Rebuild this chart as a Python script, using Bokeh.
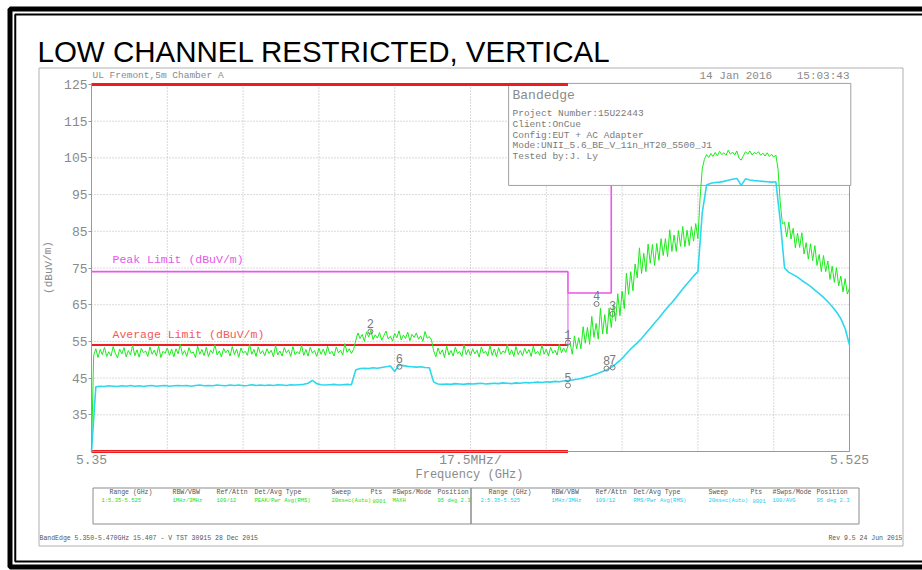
import numpy as np
from bokeh.plotting import figure
from bokeh.models import Label, BoxAnnotation, FixedTicker, Range1d, ColumnDataSource
from bokeh.core.properties import value
from bokeh.embed import file_html
from bokeh.resources import INLINE

# ---------------- data ----------------
freq_start, freq_stop = 5.35, 5.525
level_bottom, level_top = 25, 125

# Trace 1 (peak, green), dBuV/m
green_dbuv = [
    25.0,
    51.2, 53.0, 50.6, 52.8, 51.4, 53.4, 50.9, 52.2, 51.0, 53.6, 51.8, 50.5, 52.9, 51.6, 53.3, 50.8, 52.5, 51.3, 54.0, 51.1,
    52.7, 50.7, 53.1, 51.9, 52.4, 50.9, 53.5, 51.5, 52.6, 51.0, 53.8, 50.6, 52.3, 51.7, 53.2, 51.2, 52.9, 50.8, 53.0, 51.6,
    54.2, 51.4, 52.5, 50.9, 53.3, 51.8, 52.1, 50.6, 53.7, 51.5, 52.8, 51.1, 53.4, 50.9, 52.6, 51.7, 54.1, 51.3, 52.4, 50.8,
    53.1, 51.9, 52.7, 51.0, 53.6, 51.4, 52.9, 50.7, 53.2, 51.8, 52.3, 51.2, 54.3, 51.5, 52.8, 50.9, 53.5, 51.6, 52.5, 51.1,
    53.0, 51.7, 52.6, 50.8, 53.9, 51.3, 52.4, 51.0, 53.3, 51.9, 52.7, 50.9, 53.6, 51.4, 52.2, 51.6, 54.0, 51.2, 52.8, 51.0,
    53.4, 51.8, 52.5, 50.9, 53.1, 51.5, 52.9, 51.2, 53.7, 51.6, 52.3, 51.0, 53.5, 51.9, 52.6, 51.3, 54.4, 52.0, 53.0, 51.7, 52.8,
    55.2, 57.3, 55.8, 56.9, 55.0, 57.6, 56.2, 58.1, 55.5, 56.8, 55.9, 57.4, 55.3, 56.6, 57.8, 55.7, 56.4, 55.1,
    57.2, 56.0, 57.9, 55.4, 56.7, 55.8, 57.5, 55.2, 56.9, 56.1, 57.3, 55.6, 56.5, 55.0, 57.7, 55.9, 56.3, 55.4,
    52.4, 50.8, 53.2, 51.5, 52.7, 50.6, 53.8, 51.3, 52.5, 51.0, 53.4, 51.7, 52.2, 50.9, 54.1, 51.4, 52.8, 51.1, 53.0, 51.6,
    52.6, 50.7, 53.5, 51.8, 52.3, 51.0, 53.9, 51.2, 52.9, 50.8, 53.3, 51.5, 52.4, 51.9, 54.2, 51.3, 52.7, 50.9, 53.6, 51.4,
    52.5, 51.1, 53.1, 51.7, 52.8, 50.9, 53.7, 51.6, 52.3, 51.2, 54.0, 51.5, 52.9, 51.0, 53.4, 51.8, 52.6, 51.3, 54.3, 51.9, 53.2, 52.0, 53.8,
    54.5, 51.5, 56.5, 53.0, 56.0, 53.0, 59.0, 54.5, 58.8, 54.2, 61.8, 56.1, 59.9, 55.6, 64.0, 57.0, 62.3, 57.0, 64.0, 58.8,
    65.0, 60.5, 68.0, 62.0, 68.7, 63.9, 73.6, 67.8, 74.0, 68.8, 76.1, 72.3, 80.5, 73.5, 79.0, 74.0, 81.5, 76.3, 81.4, 75.7,
    81.7, 77.1, 83.0, 78.4, 83.0, 78.1, 85.4, 79.5, 84.0, 79.5, 85.2, 80.9, 86.3, 80.8, 85.3, 81.1, 86.3, 82.3, 87.1, 83.0,
    94.0, 102.0,
    104.6, 105.9, 105.1, 106.2, 105.4, 106.5, 105.6, 106.8, 105.9, 106.4, 105.7, 107.1, 106.0, 106.6, 105.8, 106.9, 104.9,
    104.4, 105.6, 106.7, 106.0, 106.9, 105.8, 106.5, 106.1, 106.7, 105.7, 106.3, 105.5, 106.4, 105.4, 106.0, 105.2, 105.8,
    102.0, 93.0, 87.0,
    87.5, 83.5, 87.5, 82.9, 85.8, 80.5, 84.5, 80.6, 84.6, 78.8, 81.9, 77.4, 81.6, 77.0, 81.1, 75.7,
    78.7, 74.0, 78.4, 74.0, 76.9, 71.9, 75.5, 71.1, 75.1, 70.1, 72.8, 68.5, 72.1, 67.9, 69.5,
]

# Trace 2 (average, cyan), dBuV/m
cyan_dbuv = [
    25.0,
    42.6, 42.8, 42.7, 42.9, 42.8, 42.7, 42.9, 42.8, 43.0, 42.8, 42.9, 42.7, 42.9, 43.0, 42.8, 42.9, 43.0, 42.8, 42.9, 43.0,
    42.9, 43.0, 42.8, 43.0, 43.1, 42.9, 43.0, 42.9, 43.1, 43.0, 42.9, 43.1, 43.0, 43.1, 42.9, 43.0, 43.2, 43.0, 43.1, 43.0,
    43.1, 43.0, 43.2, 43.1, 43.0, 43.2, 43.1, 43.2, 43.3, 43.6, 44.4, 43.5, 43.2, 43.1, 43.2, 43.3, 43.1, 43.2, 43.3, 43.2,
    47.2, 47.6, 47.7, 47.6, 47.8, 47.7, 47.9, 48.1, 48.3, 46.8, 48.6, 48.4, 48.2, 48.1, 48.0, 48.1, 47.9, 47.8,
    43.9, 43.4, 43.3, 43.4, 43.3, 43.5, 43.4, 43.3, 43.5, 43.4, 43.5, 43.6, 43.4, 43.5, 43.6, 43.5, 43.7, 43.6, 43.5, 43.7,
    43.6, 43.8, 43.7, 43.8, 43.9, 43.8, 44.0, 43.9, 44.1, 44.0, 44.2, 44.3,
    44.5, 44.7, 44.9, 45.2, 45.5, 45.9, 46.3, 46.8, 47.3, 47.9,
    48.8, 49.8, 51.0, 52.3, 53.5, 54.6, 55.8, 57.2, 58.6, 60.0, 61.4, 62.9, 64.3, 65.6, 67.0, 68.5, 70.0, 71.4, 72.8, 74.0,
    90.0, 97.6,
    98.1, 98.3, 98.4, 98.6, 98.9, 99.2, 99.4, 97.5, 99.3, 99.0, 98.8, 98.7, 98.6, 98.5, 98.4, 98.5,
    88.0, 75.0,
    73.8, 73.2, 72.5, 71.6, 70.8, 70.0, 69.0, 68.0, 67.0, 65.8, 64.5, 63.0, 61.2, 58.5, 54.0,
]

peak_limit_freq = [5.35, 5.46, 5.46, 5.47, 5.47]
peak_limit_dbuv = [74, 74, 68.2, 68.2, 125]
avg_limit_freq = [5.35, 5.46, 5.46]
avg_limit_dbuv = [54, 54, 68.2]
display_line_start = [5.35, 5.35]
display_line_stop = [5.46, 5.46]
display_line_dbuv = [125, 25]

marker_labels = ["1", "2", "3", "4", "5", "6", "7", "8"]
marker_freq = [5.46, 5.4144, 5.4703, 5.4666, 5.46, 5.4211, 5.4703, 5.4689]
marker_dbuv = [54.7, 57.7, 62.5, 65.2, 43.0, 48.1, 47.9, 47.6]

y_ticks = [35, 45, 55, 65, 75, 85, 95, 105, 115, 125]
y_grid = [35, 45, 55, 65, 75, 85, 95, 105, 115]
x_tick_vals = [5.35, 5.4375, 5.525]
x_tick_labels = ["5.35", "17.5MHz/", "5.525"]
x_grid = [5.3675, 5.385, 5.4025, 5.42, 5.4375, 5.455, 5.4725, 5.49, 5.5075]

table_headers = ["Range (GHz)", "RBW/VBW", "Ref/Attn", "Det/Avg Type", "Sweep", "Pts", "#Swps/Mode", "Position"]
table_trace1 = ["1:5.35-5.525", "1MHz/3MHz", "109/12", "PEAK/Pwr Avg(RMS)", "20msec(Auto)", "8001", "MAXH", "95 deg 2.3"]
table_trace2 = ["2:5.35-5.525", "1MHz/3MHz", "109/12", "RMS/Pwr Avg(RMS)", "20msec(Auto)", "8001", "100/AVG", "95 deg 2.3"]

info_lines = ["Project Number:15U22443", "Client:OnCue", "Config:EUT + AC Adapter",
              "Mode:UNII_5.6_BE_V_11n_HT20_5500_J1", "Tested by:J. Ly"]

# ---------------- styling / layout ----------------
W, H = 922, 570
FL, FT, FR, FB = 91, 84, 849, 451          # plot area in canvas pixels
PXF = (freq_stop - freq_start) / (FR - FL)  # GHz per pixel
PYD = (level_top - level_bottom) / (FB - FT)  # dB per pixel
MONO = "Liberation Mono"
GRAY = "#8a8a8a"
GREEN = "#1aeb1a"
CYAN = "#2cd8ee"
MAGENTA = "#ea55ea"
RED = "#ee1c1c"

p = figure(width=W, height=H, output_backend="svg", toolbar_location=None,
           x_range=Range1d(freq_start - FL * PXF, freq_stop + (W - FR) * PXF),
           y_range=Range1d(level_bottom - (H - FB) * PYD, level_top + FT * PYD),
           min_border=0, min_border_left=0, min_border_right=0, min_border_top=0, min_border_bottom=0)
p.background_fill_color = "white"
p.border_fill_color = "white"
p.outline_line_color = None
p.xgrid.visible = False
p.ygrid.visible = False

# axes, pinned to the plot-area edges
p.yaxis.fixed_location = freq_start
p.yaxis.bounds = (level_bottom, level_top)
p.yaxis.ticker = FixedTicker(ticks=y_ticks)
p.yaxis.major_label_text_font = MONO
p.yaxis.major_label_text_font_size = "13px"
p.yaxis.major_label_text_color = GRAY
p.yaxis.axis_line_color = "#9a9a9a"
p.yaxis.major_tick_line_color = "#9a9a9a"
p.yaxis.major_tick_out = 3
p.yaxis.major_tick_in = 0
p.yaxis.minor_tick_line_color = None
p.yaxis.major_label_standoff = 1

p.xaxis.fixed_location = level_bottom
p.xaxis.bounds = (freq_start, freq_stop)
p.xaxis.ticker = FixedTicker(ticks=x_tick_vals)
p.xaxis.major_label_overrides = dict(zip(x_tick_vals, x_tick_labels))
p.xaxis.major_label_text_font = MONO
p.xaxis.major_label_text_font_size = "13px"
p.xaxis.major_label_text_color = GRAY
p.xaxis.axis_line_color = "#9a9a9a"
p.xaxis.major_tick_line_color = None
p.xaxis.minor_tick_line_color = None
p.xaxis.major_tick_out = 0
p.xaxis.major_label_standoff = 1

# plot-area border
p.add_layout(BoxAnnotation(left=freq_start, right=freq_stop, bottom=level_bottom, top=level_top,
                           fill_color=None, line_color="#9a9a9a", line_alpha=1.0, line_width=1, level="underlay"))

# grid lines from the grid tick lists
p.segment(x0=x_grid, x1=x_grid, y0=[level_bottom] * len(x_grid), y1=[level_top] * len(x_grid),
          line_color="#b4b4b4", line_dash="1 2", line_width=1)
p.segment(x0=[freq_start] * len(y_grid), x1=[freq_stop] * len(y_grid), y0=y_grid, y1=y_grid,
          line_color="#b4b4b4", line_dash="1 2", line_width=1)

# limit lines
p.line(peak_limit_freq, peak_limit_dbuv, line_color=MAGENTA, line_width=1.6)
p.line(avg_limit_freq[1:], avg_limit_dbuv[1:], line_color=MAGENTA, line_width=1)
p.line(avg_limit_freq[:2], avg_limit_dbuv[:2], line_color=RED, line_width=2)

# info box (white panel over the grid)
p.quad(left=[5.4463], right=[5.5253], bottom=[97.5], top=[125.3], fill_color="white",
       line_color="#a0a0a0", line_width=1)

# display lines
p.segment(x0=display_line_start, x1=display_line_stop, y0=display_line_dbuv, y1=display_line_dbuv,
          line_color=RED, line_width=3)

# traces
p.line(np.linspace(freq_start, freq_stop, len(green_dbuv)), green_dbuv, line_color=GREEN, line_width=1)
p.line(np.linspace(freq_start, freq_stop, len(cyan_dbuv)), cyan_dbuv, line_color=CYAN, line_width=1.6)

# markers
msrc = ColumnDataSource(dict(x=marker_freq, y=marker_dbuv, t=marker_labels))
p.scatter("x", "y", source=msrc, marker="circle", size=5, fill_color=None, line_color="#7a7a7a", line_width=1)
p.text("x", "y", text="t", source=msrc, y_offset=-8, text_align="center", text_baseline="middle",
       text_font=value(MONO), text_font_size=value("12px"), text_color="#7a7a7a")


def label(text, X, Y, size, color=GRAY, font=MONO, align="left", baseline="middle", angle=0.0):
    p.add_layout(Label(x=X, y=H - Y, x_units="screen", y_units="screen", text=text,
                       text_font=font, text_font_size=f"{size}px", text_color=color,
                       text_align=align, text_baseline=baseline, angle=angle))


def rect(X0, Y0, X1, Y1, color, width):
    p.add_layout(BoxAnnotation(left=X0, right=X1, top=H - Y0, bottom=H - Y1,
                               left_units="screen", right_units="screen",
                               top_units="screen", bottom_units="screen",
                               fill_color=None, fill_alpha=0, line_color=color, line_alpha=1.0,
                               line_width=width, level="overlay"))


# page borders
rect(9.5, 8.5, 960, 566.5, "black", 5)
rect(14.75, 14, 950, 561, "black", 2)
rect(38.5, 67.5, 902.5, 545.5, "#b0b0b0", 1)

# title
label("LOW CHANNEL RESTRICTED, VERTICAL", 37, 51, 29.5, color="black", font="Liberation Sans")

# axis titles
label("(dBuV/m)", 48, 267, 11, angle=1.5708, align="center")
label("Frequency (GHz)", 469, 474, 12, align="center")

# header texts
label("UL Fremont,5m Chamber A", 92, 75, 9.5)
label("14 Jan 2016", 699, 75, 11)
label("15:03:43", 849, 75, 11, align="right")

# info box text
label("Bandedge", 512, 95, 13)
for i, t in enumerate(info_lines):
    label(t, 512, 113 + i * 10.8, 9.5, color="#7a7a7a")

# limit labels
label("Peak Limit (dBuV/m)", 112, 259, 11.5, color=MAGENTA)
label("Average Limit (dBuV/m)", 112, 334, 11.5, color="#ef5a5a")

# settings table
rect(92.5, 487.5, 470.5, 523.5, "#8c8c8c", 1)
rect(470.5, 487.5, 858.5, 523.5, "#8c8c8c", 1)
left_cols = [109, 172, 216, 254, 331, 370, 392, 437]
right_cols = [488, 551, 595, 633, 708, 750, 772, 816]
for xs, vals, col in ((left_cols, table_trace1, "#22dd22"), (right_cols, table_trace2, "#22ccee")):
    for x, h, v in zip(xs, table_headers, vals):
        label(h, x, 492, 6.5, color="#555555")
        label(v, x - 8 if h.startswith("Range") else (x + 2 if h == "Pts" else x), 500, 5.5, color=col)

# footer
label("BandEdge 5.350-5.470GHz 15.407 - V TST 30915 28 Dec 2015", 39, 538, 6.5, color="#555555")
label("Rev 9.5 24 Jun 2015", 902, 538, 6.5, color="#555555", align="right")

open("out.html", "w").write(file_html(p, INLINE))
